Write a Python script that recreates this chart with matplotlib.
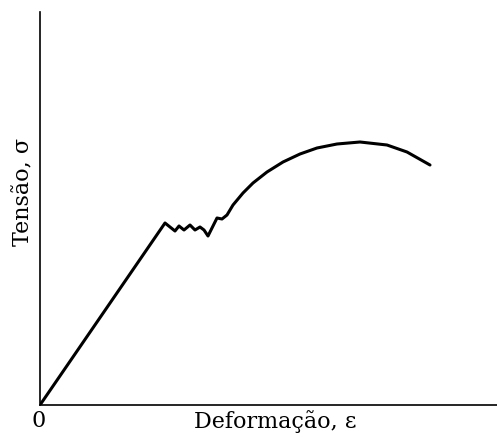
import matplotlib
matplotlib.use("Agg")
import matplotlib.pyplot as plt

# curva tensão-deformação (unidades arbitrárias)
strain = [0, 125, 135, 139, 144, 150, 155, 160, 164, 168, 177, 182, 187,
          193, 203, 213, 227, 243, 260, 277, 297, 320, 347, 367, 390]
stress = [0, 182, 174, 179, 175, 180, 175, 178, 175, 169, 187, 186, 190,
          200, 212, 222, 233, 243, 251, 257, 261, 263, 260, 253, 240]

x_label = "Deformação, ε"
y_label = "Tensão, σ"
origin_label = "0"

fig = plt.figure(figsize=(4.97, 4.37), dpi=100)
ax = fig.add_axes([40 / 497, 32 / 437, 457 / 497, 393 / 437])

ax.plot(strain, stress, color="black", lw=2.2,
        solid_joinstyle="round", solid_capstyle="round")
ax.set_xlim(0, 457)
ax.set_ylim(0, 393)

for s in ("top", "right"):
    ax.spines[s].set_visible(False)
for s in ("left", "bottom"):
    ax.spines[s].set_linewidth(1.2)
ax.set_xticks([])
ax.set_yticks([])

font = dict(family="DejaVu Serif", fontsize=16)
ax.text(-1, -5, origin_label, ha="center", va="top", **font)
ax.text(235, -5, x_label, ha="center", va="top", **font)
ax.text(-17, 213, y_label, ha="center", va="center", rotation=90, **font)

fig.savefig("out.png", dpi=100)
